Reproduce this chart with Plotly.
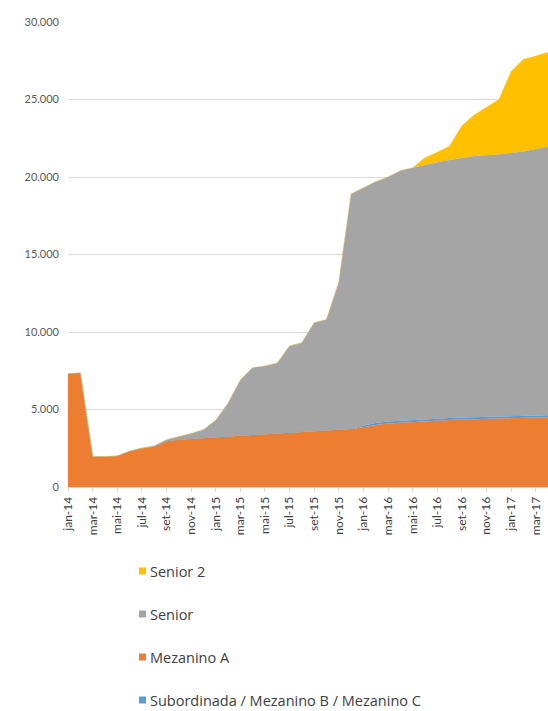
import plotly.graph_objects as go

# ---- data ----
months = ["jan", "fev", "mar", "abr", "mai", "jun", "jul", "ago", "set", "out", "nov", "dez"]
categories = [f"{m}-{y}" for y in ["14", "15", "16", "17"] for m in months][:40]  # jan-14 .. abr-17

mezanino_a = [7300, 7350, 1950, 1950, 2000, 2300, 2500, 2600, 2950, 3050,
              3100, 3150, 3200, 3250, 3300, 3350, 3400, 3450, 3500, 3550,
              3600, 3650, 3700, 3750, 3850, 4000, 4100, 4150, 4200, 4250,
              4300, 4320, 4350, 4370, 4390, 4410, 4430, 4450, 4470, 4500]

subordinada = [0, 0, 0, 0, 0, 0, 0, 0, 0, 0,
               0, 0, 0, 0, 0, 0, 0, 0, 0, 0,
               0, 0, 0, 0, 120, 130, 130, 130, 130, 130,
               130, 130, 130, 130, 130, 130, 130, 130, 130, 130]

# cumulative top of Senior layer, converted to layer values below
senior_top = [7300, 7350, 1950, 1950, 2000, 2300, 2500, 2650, 3050, 3250,
              3450, 3700, 4300, 5400, 6900, 7700, 7800, 8000, 9100, 9300,
              10600, 10800, 13200, 18900, 19300, 19700, 20000, 20400, 20600, 20800,
              20950, 21100, 21250, 21350, 21400, 21450, 21550, 21650, 21800, 21950]

total_top = [None] * 28 + [20600, 21250, 21600, 22000, 23300, 24000, 24500, 25000,
                           26800, 27600, 27800, 28050]

senior = [max(t - a - s, 0) for t, a, s in zip(senior_top, mezanino_a, subordinada)]
senior2 = [0 if t is None else max(t - st, 0) for t, st in zip(total_top, senior_top)]

tick_labels = categories[::2]
legend_order = ["Senior 2", "Senior", "Mezanino A", "Subordinada / Mezanino B / Mezanino C"]

colors = {"Mezanino A": "#ED7D31", "Subordinada / Mezanino B / Mezanino C": "#5B9BD5",
          "Senior": "#A5A5A5", "Senior 2": "#FFC000"}

W, H = 548, 711
ML, MR, MT, MB = 68, 0, 22, 224
PW, PH = W - ML - MR, H - MT - MB


def px_x(x):
    return (x - ML) / PW


def px_y(y):
    return (H - MB - y) / PH


fig = go.Figure()
series = [("Mezanino A", mezanino_a), ("Subordinada / Mezanino B / Mezanino C", subordinada),
          ("Senior", senior), ("Senior 2", senior2)]
for name, vals in series:
    fig.add_trace(go.Scatter(
        x=categories, y=vals, name=name, mode="lines", stackgroup="one",
        line=dict(width=0.3, color=colors[name]), fillcolor=colors[name],
        showlegend=False, hoverinfo="x+y+name"))

# legend drawn as shapes + annotations (Excel-like compact legend)
shapes, annotations = [], []
for i, name in enumerate(legend_order):
    yc = 571 + i * 43
    shapes.append(dict(type="rect", xref="paper", yref="paper",
                       xsizemode="pixel", ysizemode="pixel",
                       xanchor=px_x(142.5), yanchor=px_y(yc),
                       x0=-3.5, x1=3.5, y0=-3.5, y1=3.5,
                       fillcolor=colors[name], line=dict(width=0)))
    annotations.append(dict(text=name, xref="paper", yref="paper",
                            x=px_x(149), y=px_y(yc), xanchor="left", yanchor="middle",
                            showarrow=False, borderpad=0,
                            font=dict(family="'Open Sans', sans-serif", size=14.5, color="#404040")))

fig.update_layout(
    width=W, height=H,
    margin=dict(l=ML, r=MR, t=MT, b=MB),
    paper_bgcolor="white", plot_bgcolor="white",
    separators=",.",
    showlegend=False,
    font=dict(family="Lato, 'Open Sans', sans-serif", color="#595959", size=11),
    xaxis=dict(type="category", range=[0, 39], tickmode="array",
               tickvals=tick_labels, ticktext=tick_labels, tickangle=-90,
               ticks="outside", ticklen=4, tickcolor="#D9D9D9",
               showline=True, linecolor="#D9D9D9", showgrid=False,
               tickfont=dict(size=12, color="#404040")),
    yaxis=dict(range=[0, 30000], dtick=5000, tickformat=",d",
               gridcolor="#D9D9D9", gridwidth=1, zeroline=False,
               ticks="", ticklabelstandoff=8,
               tickfont=dict(size=11, color="#595959")),
    shapes=shapes,
    annotations=annotations,
)

fig.write_html("out.html")
